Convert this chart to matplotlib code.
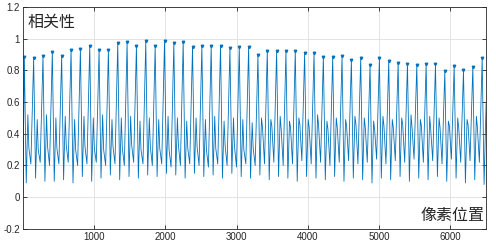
import matplotlib
matplotlib.use('Agg')
import matplotlib.pyplot as plt
from matplotlib import ticker

plt.rcParams['font.family'] = ['Liberation Sans', 'DejaVu Sans']

# 峰值位置 (像素) 和相关性峰值
peak_pos = [21, 152, 283, 414, 545, 677, 808, 939, 1070, 1201,
            1332, 1463, 1594, 1725, 1857, 1988, 2119, 2250, 2381, 2512,
            2643, 2774, 2906, 3037, 3168, 3299, 3430, 3561, 3692, 3823,
            3954, 4086, 4217, 4348, 4479, 4610, 4741, 4872, 5003, 5134,
            5266, 5397, 5528, 5659, 5790, 5921, 6052, 6183, 6314, 6445]
peak_val = [0.885, 0.876, 0.889, 0.918, 0.893, 0.929, 0.935, 0.956, 0.929, 0.927,
            0.973, 0.977, 0.954, 0.983, 0.954, 0.983, 0.975, 0.981, 0.950, 0.954,
            0.954, 0.956, 0.941, 0.950, 0.948, 0.897, 0.925, 0.920, 0.920, 0.925,
            0.910, 0.908, 0.885, 0.885, 0.889, 0.866, 0.878, 0.835, 0.878, 0.860,
            0.849, 0.843, 0.835, 0.843, 0.837, 0.795, 0.830, 0.801, 0.824, 0.878]
# 每个周期里的谷值、次峰、拐点、肩部
min_val = [0.09, 0.12, 0.10, 0.10, 0.11, 0.09, 0.13, 0.10, 0.12, 0.14,
           0.11, 0.13, 0.12, 0.14, 0.13, 0.15, 0.14, 0.12, 0.15, 0.13,
           0.14, 0.12, 0.15, 0.13, 0.12, 0.14, 0.11, 0.13, 0.12, 0.10,
           0.13, 0.12, 0.11, 0.13, 0.10, 0.12, 0.11, 0.09, 0.12, 0.11,
           0.13, 0.10, 0.12, 0.11, 0.13, 0.10, 0.12, 0.09, 0.11, 0.08]
bump_val = [0.52, 0.49, 0.52, 0.50, 0.51, 0.49, 0.51, 0.50, 0.52, 0.49,
            0.50, 0.51, 0.48, 0.50, 0.49, 0.51, 0.50, 0.48, 0.50, 0.49,
            0.51, 0.48, 0.50, 0.49, 0.47, 0.50, 0.49, 0.51, 0.48, 0.50,
            0.49, 0.52, 0.48, 0.50, 0.49, 0.51, 0.50, 0.48, 0.51, 0.49,
            0.50, 0.52, 0.49, 0.51, 0.50, 0.48, 0.50, 0.49, 0.51, 0.50]
kink_val = [0.31, 0.30, 0.32, 0.31, 0.33, 0.30, 0.32, 0.31, 0.30, 0.32,
            0.31, 0.33, 0.30, 0.32, 0.31, 0.30, 0.33, 0.31, 0.32, 0.30,
            0.31, 0.33, 0.32, 0.30, 0.31, 0.44, 0.45, 0.43, 0.44, 0.46,
            0.44, 0.45, 0.43, 0.44, 0.45, 0.46, 0.44, 0.43, 0.45, 0.44,
            0.46, 0.44, 0.45, 0.43, 0.44, 0.45, 0.44, 0.46, 0.44, 0.45]
shoulder_val = [0.21, 0.22, 0.20, 0.21, 0.22, 0.20, 0.21, 0.22, 0.20, 0.21,
                0.20, 0.22, 0.21, 0.20, 0.21, 0.19, 0.20, 0.21, 0.20, 0.19,
                0.21, 0.20, 0.19, 0.21, 0.20, 0.21, 0.22, 0.20, 0.21, 0.23,
                0.21, 0.22, 0.20, 0.22, 0.23, 0.21, 0.22, 0.24, 0.21, 0.23,
                0.22, 0.24, 0.22, 0.23, 0.21, 0.24, 0.22, 0.23, 0.22, 0.24]
start_val = 0.02
end_pos, end_val = 6500, 0.59

# 拼出整条曲线
x = [1]
y = [start_val]
for i, p in enumerate(peak_pos):
    x += [p, p + 27]
    y += [peak_val[i], min_val[i]]
    if i < len(peak_pos) - 1:
        x += [p + 50, p + 64, p + 92]
        y += [bump_val[i], kink_val[i], shoulder_val[i]]
x.append(end_pos)
y.append(end_val)

blue = '#0072BD'
fig = plt.figure(figsize=(4.96, 2.48), dpi=100)
ax = fig.add_axes([0.046, 0.077, 0.934, 0.895])
ax.plot(x, y, color=blue, lw=0.6)
ax.plot(peak_pos, peak_val, 'v', color=blue, ms=1.8)

ax.set_xlim(0, 6500)
ax.set_ylim(-0.2, 1.2)
ax.set_xticks(range(1000, 6001, 1000))
ax.set_yticks([-0.2, 0, 0.2, 0.4, 0.6, 0.8, 1, 1.2])
ax.yaxis.set_major_formatter(ticker.FuncFormatter(lambda v, p: '%g' % round(v, 1)))
ax.grid(True, color='#dedede', lw=0.6)
ax.set_axisbelow(True)
ax.tick_params(direction='in', top=True, right=True, length=3, width=0.6,
               labelsize=7, colors='#262626', pad=2)
for s in ax.spines.values():
    s.set_color('#262626')
    s.set_linewidth(0.6)

ax.text(0.01, 0.93, '相关性', transform=ax.transAxes, ha='left', va='center',
        fontsize=11.5, color='#262626', family=['Noto Sans CJK SC', 'DejaVu Sans'])
ax.text(0.997, 0.062, '像素位置', transform=ax.transAxes, ha='right', va='center',
        fontsize=11.5, color='#262626', family=['Noto Sans CJK SC', 'DejaVu Sans'])

fig.savefig('out.png', dpi=100)
